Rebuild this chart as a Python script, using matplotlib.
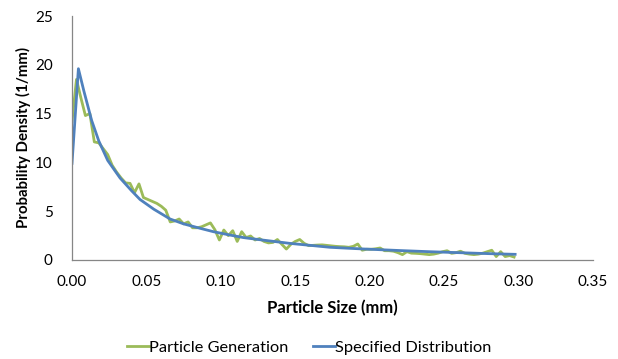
import numpy as np
import matplotlib
matplotlib.use("Agg")
import matplotlib.pyplot as plt
from matplotlib.ticker import FormatStrFormatter

plt.rcParams['font.family'] = ['Lato', 'DejaVu Sans']

# particle generation (sampled histogram), step 0.003 mm
gen_x = [round(0.003 * i, 3) for i in range(100)]
gen_y = [14.2, 18.5, 16.6, 14.8, 15.0, 12.1, 12.0, 11.4, 10.8, 9.7,
         9.0, 8.4, 7.9, 7.85, 6.9, 7.8, 6.4, 6.2, 6.0, 5.8,
         5.5, 5.1, 3.9, 4.0, 4.2, 3.7, 3.9, 3.3, 3.3, 3.4,
         3.6, 3.8, 3.1, 2.05, 3.07, 2.5, 3.0, 1.9, 2.9, 2.3,
         2.46, 2.05, 2.2, 1.9, 1.75, 1.8, 2.1, 1.6, 1.12, 1.6,
         1.9, 2.1, 1.7, 1.47, 1.5, 1.53, 1.55, 1.5, 1.45, 1.4,
         1.37, 1.35, 1.3, 1.4, 1.64, 1.0, 1.1, 1.1, 1.15, 1.23,
         0.95, 0.95, 0.9, 0.75, 0.55, 0.85, 0.7, 0.68, 0.65, 0.6,
         0.55, 0.6, 0.7, 0.85, 0.95, 0.68, 0.75, 0.9, 0.68, 0.6,
         0.55, 0.6, 0.7, 0.85, 1.0, 0.35, 0.85, 0.35, 0.45, 0.3]

# specified distribution
spec_x = [0.0, 0.0043, 0.008, 0.0132, 0.018, 0.024, 0.0323, 0.04, 0.0457,
          0.055, 0.0659, 0.075, 0.086, 0.095, 0.106, 0.115, 0.125, 0.1465,
          0.16, 0.1734, 0.19, 0.2, 0.22, 0.24, 0.26, 0.28, 0.2977]
spec_y = [9.9, 19.6, 17.3, 14.3, 12.2, 10.2, 8.4, 7.1, 6.2,
          5.2, 4.2, 3.7, 3.25, 2.9, 2.56, 2.3, 2.1, 1.7,
          1.5, 1.3, 1.17, 1.1, 0.97, 0.85, 0.75, 0.65, 0.58]

x_ticks = [0.0, 0.05, 0.10, 0.15, 0.20, 0.25, 0.30, 0.35]
y_ticks = [0, 5, 10, 15, 20, 25]

fig = plt.figure(figsize=(6.18, 3.59), dpi=100)
ax = fig.add_axes([0.1165, 0.2758, 0.843, 0.6796])

ax.plot(gen_x, gen_y, color="#9BBB59", lw=2.0, label="Particle Generation")
ax.plot(spec_x, spec_y, color="#4F81BD", lw=2.0, label="Specified Distribution")

ax.set_xlim(0, 0.35)
ax.set_ylim(0, 25)
ax.set_xticks(x_ticks)
ax.set_yticks(y_ticks)
ax.xaxis.set_major_formatter(FormatStrFormatter("%.2f"))
for s in ["top", "right"]:
    ax.spines[s].set_visible(False)
for s in ["left", "bottom"]:
    ax.spines[s].set_color("#868686")
    ax.spines[s].set_linewidth(0.9)
ax.tick_params(axis="x", length=0, pad=11, labelsize=11, colors="#000000")
ax.tick_params(axis="y", length=0, pad=14, labelsize=11, colors="#000000")

ax.set_xlabel("Particle Size (mm)", fontsize=12, fontweight="bold", labelpad=8)
ax.set_ylabel("Probability Density (1/mm)", fontsize=10.8, fontweight="bold", labelpad=3)

fig.legend(loc="lower center", bbox_to_anchor=(0.5, -0.03), ncol=2, frameon=False,
           fontsize=11.8, handlelength=1.35, handletextpad=0.0, columnspacing=1.5)

fig.savefig("out.png", dpi=100)
